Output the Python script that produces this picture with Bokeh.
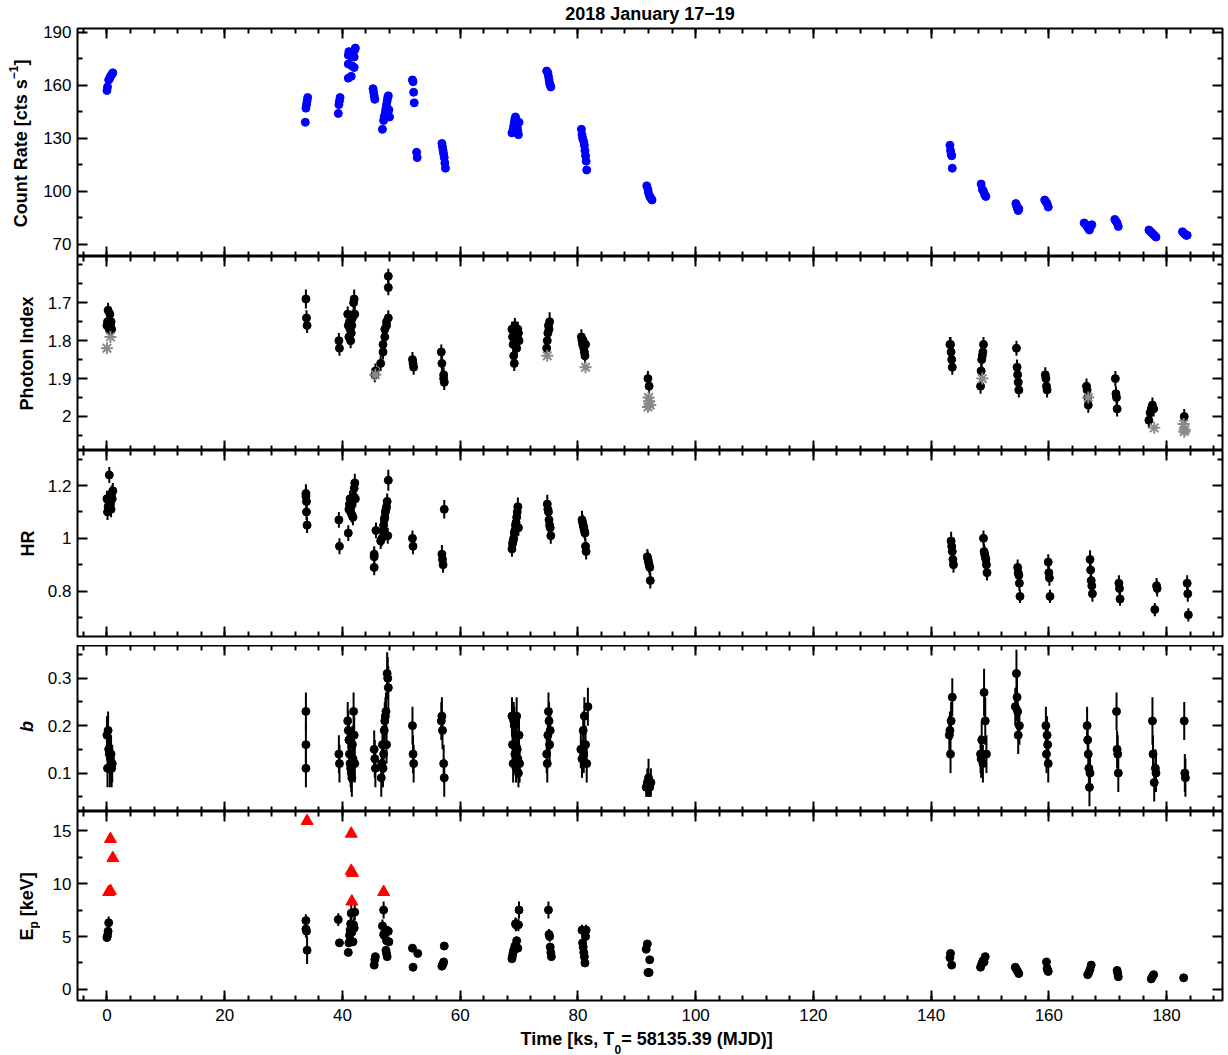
import math
from bokeh.plotting import figure
from bokeh.layouts import column, row
from bokeh.models import (Range1d, FixedTicker, SingleIntervalTicker, LinearAxis,
                          ColumnDataSource)
from bokeh.core.properties import value
from bokeh.embed import file_html
from bokeh.resources import INLINE

# ---------------------------------------------------------------- data
# count rate (cts/s)
rate_t = [
    0.0, 0.1, 0.3, 0.5, 0.6, 0.8, 1.0,
    33.7, 33.8, 33.9, 34.0, 34.1,
    39.3, 39.4, 39.5, 39.6,
    41.0, 41.0, 41.0, 41.1, 41.5, 41.6, 41.6, 41.7, 42.0, 42.0, 42.1, 42.2,
    45.2, 45.3, 45.4, 45.5,
    46.8, 47.0, 47.1, 47.2, 47.3, 47.4, 47.5, 47.6, 47.7, 47.8, 47.9, 48.0,
    51.9, 52.0, 52.1, 52.2,
    52.6, 52.7,
    56.9, 57.0, 57.1, 57.2, 57.3, 57.4, 57.5,
    68.8, 69.0, 69.1, 69.2, 69.3, 69.4, 69.5, 69.6, 69.7, 69.8, 69.9, 70.0,
    74.7, 74.9, 75.0, 75.1, 75.2, 75.3, 75.4,
    80.6, 80.7, 80.8, 81.0, 81.1, 81.2, 81.3, 81.4, 81.5,
    91.7, 91.9, 92.0, 92.2, 92.4, 92.6,
    143.2, 143.3, 143.4, 143.5, 143.6,
    148.5, 148.7, 148.9, 149.1, 149.3,
    154.4, 154.5, 154.6, 154.7, 154.8, 154.9,
    159.3, 159.5, 159.7, 159.9,
    166.0, 166.3, 166.5, 166.7, 166.9, 167.1, 167.3,
    171.2, 171.4, 171.6, 171.8,
    177.0, 177.3, 177.6, 177.9, 178.2,
    182.7, 183.0, 183.3, 183.5,
]
rate_val = [
    157, 159, 163, 164, 165, 166, 167,
    139, 147, 149, 151, 153,
    144, 149, 151, 153,
    164, 172, 177, 179, 165, 171, 176, 178, 170, 176, 180, 181,
    158, 156, 154, 152,
    135, 140, 142, 143, 145, 147, 149, 151, 153, 154, 146, 142,
    163, 162, 156, 150,
    122, 119,
    127, 125, 123, 121, 119, 116, 113,
    133, 135, 137, 139, 141, 142, 140, 138, 136, 134, 132, 139,
    168, 167, 165, 163, 161, 160, 159,
    135, 132, 130, 128, 126, 123, 120, 117, 112,
    103, 101, 99, 97, 96, 95,
    126, 123, 121, 120, 113,
    104, 101, 100, 98, 97,
    93, 92, 91, 90, 89, 90,
    95, 94, 93, 91,
    82, 81, 80, 79, 78, 80, 81,
    84, 83, 82, 80,
    78, 77, 76, 75, 74,
    77, 76, 75, 75,
]
rate_err = [
    2.0, 2.0, 2.0, 2.0, 2.0, 2.0, 2.0,
    1.5, 2.0, 2.0, 2.0, 2.0,
    2.0, 2.0, 2.0, 2.0,
    2.0, 2.0, 2.0, 2.0, 2.0, 2.0, 2.0, 2.0, 2.0, 2.0, 2.0, 2.0,
    2.0, 2.0, 2.0, 2.0,
    1.5, 2.0, 2.0, 2.0, 2.0, 2.0, 2.0, 2.0, 2.0, 2.0, 2.0, 2.0,
    2.0, 2.0, 2.0, 2.0,
    2.0, 2.0,
    2.0, 2.0, 2.0, 2.0, 2.0, 2.0, 2.0,
    2.0, 2.0, 2.0, 2.0, 2.0, 2.0, 2.0, 2.0, 2.0, 2.0, 2.0, 2.0,
    2.0, 2.0, 2.0, 2.0, 2.0, 2.0, 2.0,
    2.0, 2.0, 2.0, 2.0, 2.0, 2.0, 2.0, 2.0, 2.0,
    1.5, 1.5, 1.5, 1.5, 1.5, 1.5,
    1.5, 1.5, 1.5, 1.5, 1.5,
    1.5, 1.5, 1.5, 1.5, 1.5,
    1.5, 1.5, 1.5, 1.5, 1.5, 1.5,
    1.5, 1.5, 1.5, 1.5,
    1.5, 1.5, 1.5, 1.5, 1.5, 1.5, 1.5,
    1.5, 1.5, 1.5, 1.5,
    1.5, 1.5, 1.5, 1.5, 1.5,
    1.5, 1.5, 1.5, 1.5,
]

# photon index
pi_t = [
    0.0, 0.1, 0.2, 0.3, 0.4, 0.5, 0.6, 0.7, 0.8,
    33.8, 33.9, 34.0,
    39.4, 39.5,
    40.9, 41.0, 41.1, 41.2, 41.3, 41.4, 41.5, 41.6, 41.7, 41.9, 42.0, 42.1,
    45.5, 45.6,
    46.5, 46.9, 46.9, 47.2, 47.2, 47.5, 47.5, 47.8, 47.8, 47.8,
    51.9, 52.0, 52.1,
    56.8, 56.9, 57.2, 57.2, 57.3,
    68.8, 68.9, 69.0, 69.1, 69.2, 69.3, 69.4, 69.5, 69.6, 69.7, 69.8, 69.9, 70.0,
    74.7, 74.8, 74.9, 75.0, 75.1, 75.2,
    80.6, 80.7, 80.8, 80.9, 81.0, 81.1, 81.2, 81.3,
    91.9, 92.1,
    143.2, 143.3, 143.4, 143.5, 143.6,
    148.4, 148.5, 148.6, 148.7, 148.8, 148.9,
    154.5, 154.6, 154.7, 154.8, 154.9,
    159.4, 159.5, 159.6, 159.7,
    166.4, 166.5, 166.6, 166.7,
    171.3, 171.4, 171.5, 171.6,
    177.0, 177.2, 177.4, 177.6, 177.8,
    183.0,
]
pi_val = [
    1.76, 1.75, 1.72, 1.75, 1.77, 1.73, 1.76, 1.75, 1.77,
    1.69, 1.74, 1.76,
    1.80, 1.82,
    1.73, 1.76, 1.79, 1.75, 1.77, 1.80, 1.78, 1.76, 1.74, 1.70, 1.69, 1.73,
    1.89, 1.88,
    1.86, 1.83, 1.81, 1.79, 1.77, 1.76, 1.75, 1.74, 1.66, 1.63,
    1.85, 1.86, 1.87,
    1.83, 1.86, 1.89, 1.90, 1.91,
    1.77, 1.79, 1.81, 1.84, 1.86, 1.76, 1.78, 1.80, 1.82, 1.79, 1.77, 1.78, 1.80,
    1.82, 1.80, 1.78, 1.76, 1.77, 1.75,
    1.79, 1.80, 1.81, 1.80, 1.82, 1.83, 1.84, 1.81,
    1.90, 1.92,
    1.81, 1.81, 1.83, 1.85, 1.87,
    1.92, 1.88, 1.85, 1.84, 1.83, 1.81,
    1.82, 1.87, 1.89, 1.91, 1.93,
    1.89, 1.90, 1.92, 1.93,
    1.92, 1.93, 1.95, 1.97,
    1.90, 1.94, 1.95, 1.98,
    2.01, 1.99, 1.98, 1.97, 1.98,
    2.00,
]
pi_err = [
    0.02, 0.02, 0.02, 0.02, 0.02, 0.02, 0.02, 0.02, 0.02,
    0.025, 0.02, 0.02,
    0.02, 0.02,
    0.02, 0.02, 0.02, 0.02, 0.02, 0.02, 0.02, 0.02, 0.02, 0.02, 0.025, 0.02,
    0.02, 0.02,
    0.02, 0.02, 0.02, 0.02, 0.02, 0.02, 0.02, 0.02, 0.02, 0.02,
    0.02, 0.02, 0.02,
    0.02, 0.02, 0.02, 0.02, 0.02,
    0.02, 0.02, 0.02, 0.02, 0.02, 0.02, 0.02, 0.02, 0.02, 0.02, 0.02, 0.02, 0.02,
    0.025, 0.02, 0.02, 0.02, 0.02, 0.025,
    0.02, 0.02, 0.02, 0.02, 0.02, 0.02, 0.02, 0.02,
    0.02, 0.02,
    0.02, 0.02, 0.02, 0.02, 0.02,
    0.02, 0.02, 0.02, 0.02, 0.02, 0.02,
    0.02, 0.02, 0.02, 0.02, 0.02,
    0.02, 0.02, 0.02, 0.02,
    0.02, 0.02, 0.02, 0.02,
    0.02, 0.02, 0.02, 0.02,
    0.02, 0.02, 0.02, 0.02, 0.02,
    0.02,
]
# photon index from the alternative fit (grey asterisks)
pi_alt_t = [0.0, 0.6, 45.6, 74.8, 81.3, 91.9, 92.0, 92.1, 92.3,
            148.7, 166.7, 177.9, 182.9, 183.0, 183.1]
pi_alt_val = [1.82, 1.79, 1.89, 1.84, 1.87, 1.975, 1.95, 1.96, 1.97,
              1.90, 1.95, 2.03, 2.02, 2.04, 2.035]

# hardness ratio
hr_t = [
    0.0, 0.1, 0.2, 0.3, 0.4, 0.5, 0.6, 0.7, 0.8, 0.9, 1.0,
    33.8, 33.8, 33.9, 33.9, 34.0,
    39.4, 39.5,
    41.0, 41.1, 41.2, 41.3, 41.4, 41.5, 41.6, 41.7, 41.8, 41.9, 42.0, 42.1, 42.2,
    45.4, 45.4, 45.4, 45.7,
    46.5, 46.7, 46.9, 47.0, 47.1, 47.2, 47.3, 47.4, 47.5, 47.6, 47.7, 47.8,
    51.9, 52.0,
    56.9, 57.0, 57.1, 57.3,
    68.8, 68.9, 69.0, 69.1, 69.2, 69.3, 69.4, 69.5, 69.6, 69.7, 69.8, 69.9,
    74.8, 74.9, 75.0, 75.1, 75.2, 75.3, 75.4,
    80.7, 80.8, 80.9, 81.0, 81.1, 81.2, 81.3, 81.4,
    91.8, 91.9, 92.0, 92.1, 92.2, 92.3,
    143.4, 143.5, 143.6, 143.7, 143.8,
    148.9, 149.0, 149.1, 149.2, 149.3, 149.4, 149.5,
    154.7, 154.8, 154.9, 155.0, 155.1,
    159.9, 160.0, 160.1, 160.2,
    167.0, 167.1, 167.2, 167.3, 167.4,
    171.9, 172.0, 172.1,
    178.0, 178.3, 178.4,
    183.5, 183.6, 183.7,
]
hr_val = [
    1.15, 1.10, 1.12, 1.14, 1.24, 1.16, 1.13, 1.11, 1.17, 1.15, 1.18,
    1.17, 1.16, 1.14, 1.10, 1.05,
    1.07, 0.97,
    1.02, 1.11, 1.13, 1.15, 1.10, 1.12, 1.09, 1.14, 1.08, 1.16, 1.19, 1.21, 1.15,
    0.89, 0.93, 0.94, 1.03,
    0.99, 1.00, 1.03, 1.05, 1.07, 1.08, 1.10, 1.11, 1.12, 1.14, 1.01, 1.22,
    1.00, 0.97,
    0.94, 0.92, 0.90, 1.11,
    0.96, 0.98, 0.99, 1.00, 1.02, 1.03, 1.05, 1.06, 1.08, 1.10, 1.12, 1.04,
    1.13, 1.11, 1.10, 1.07, 1.05, 1.04, 1.01,
    1.07, 1.06, 1.05, 1.04, 1.03, 1.02, 0.97, 0.95,
    0.93, 0.92, 0.91, 0.90, 0.89, 0.84,
    0.99, 0.97, 0.95, 0.92, 0.90,
    1.00, 0.95, 0.94, 0.93, 0.92, 0.90, 0.87,
    0.89, 0.87, 0.86, 0.83, 0.78,
    0.91, 0.87, 0.85, 0.78,
    0.92, 0.88, 0.84, 0.82, 0.79,
    0.83, 0.81, 0.77,
    0.73, 0.82, 0.81,
    0.83, 0.79, 0.71,
]
hr_err = [
    0.03, 0.03, 0.03, 0.03, 0.03, 0.03, 0.03, 0.03, 0.03, 0.03, 0.03,
    0.035, 0.03, 0.03, 0.03, 0.03,
    0.03, 0.03,
    0.03, 0.03, 0.03, 0.03, 0.03, 0.03, 0.03, 0.03, 0.03, 0.03, 0.03, 0.035, 0.03,
    0.03, 0.03, 0.03, 0.03,
    0.03, 0.03, 0.03, 0.03, 0.03, 0.03, 0.03, 0.03, 0.03, 0.03, 0.03, 0.04,
    0.03, 0.03,
    0.035, 0.03, 0.03, 0.035,
    0.03, 0.03, 0.03, 0.03, 0.03, 0.03, 0.03, 0.03, 0.03, 0.03, 0.035, 0.03,
    0.035, 0.03, 0.03, 0.03, 0.03, 0.03, 0.03,
    0.035, 0.03, 0.03, 0.03, 0.03, 0.03, 0.03, 0.03,
    0.03, 0.03, 0.03, 0.03, 0.03, 0.03,
    0.035, 0.03, 0.03, 0.03, 0.03,
    0.03, 0.03, 0.03, 0.03, 0.03, 0.03, 0.03,
    0.03, 0.03, 0.03, 0.03, 0.025,
    0.03, 0.03, 0.03, 0.025,
    0.035, 0.03, 0.03, 0.03, 0.03,
    0.03, 0.03, 0.025,
    0.025, 0.03, 0.03,
    0.03, 0.03, 0.025,
]

# curvature parameter b
b_t = [
    0.0, 0.1, 0.2, 0.3, 0.4, 0.5, 0.6, 0.7, 0.8, 0.9,
    33.8, 33.8, 33.8,
    39.4, 39.5,
    40.9, 41.0, 41.1, 41.2, 41.3, 41.4, 41.5, 41.6, 41.7, 41.8, 41.9, 42.0, 42.1,
    45.4, 45.5, 45.6,
    46.6, 46.7, 46.8, 46.9, 47.0, 47.1, 47.2, 47.3, 47.4, 47.5, 47.6, 47.7, 47.8,
    51.9, 52.0, 52.1,
    56.8, 56.9, 57.0, 57.2, 57.3,
    68.8, 68.9, 69.0, 69.1, 69.2, 69.3, 69.4, 69.5, 69.6, 69.7, 69.8, 69.9, 70.0, 70.1,
    74.7, 74.8, 74.9, 75.0, 75.1, 75.2, 75.3,
    80.5, 80.7, 80.9, 81.0, 81.1, 81.3, 81.5, 81.7,
    91.6, 91.8, 92.0, 92.2, 92.4,
    143.1, 143.2, 143.3, 143.4, 143.6,
    148.4, 148.5, 148.6, 148.8, 149.0, 149.2, 149.4,
    154.3, 154.5, 154.6, 154.7, 154.8, 155.0,
    159.5, 159.6, 159.7, 159.8, 159.9,
    166.5, 166.6, 166.7, 166.8, 166.9, 167.0,
    171.5, 171.6, 171.7, 171.8,
    177.6, 177.7, 177.9, 178.1, 178.2,
    183.0, 183.1, 183.2,
]
b_val = [
    0.18, 0.11, 0.19, 0.15, 0.14, 0.11, 0.13, 0.14, 0.11, 0.12,
    0.23, 0.16, 0.11,
    0.14, 0.12,
    0.21, 0.19, 0.17, 0.14, 0.12, 0.11, 0.10, 0.09, 0.16, 0.13, 0.23, 0.18, 0.12,
    0.15, 0.13, 0.11,
    0.09, 0.12, 0.16, 0.11, 0.14, 0.19, 0.21, 0.22, 0.23, 0.16, 0.31, 0.30, 0.28,
    0.20, 0.14, 0.12,
    0.21, 0.22, 0.19, 0.12, 0.09,
    0.22, 0.16, 0.12, 0.21, 0.20, 0.14, 0.18, 0.11, 0.22, 0.15, 0.13, 0.10, 0.18, 0.12,
    0.14, 0.12, 0.18, 0.23, 0.21, 0.16, 0.19,
    0.15, 0.13, 0.19, 0.14, 0.22, 0.16, 0.12, 0.24,
    0.07, 0.08, 0.09, 0.07, 0.08,
    0.18, 0.19, 0.14, 0.21, 0.26,
    0.14, 0.13, 0.17, 0.12, 0.27, 0.21, 0.14,
    0.24, 0.31, 0.26, 0.23, 0.18, 0.20,
    0.20, 0.14, 0.18, 0.16, 0.12,
    0.20, 0.17, 0.14, 0.11, 0.07, 0.10,
    0.23, 0.15, 0.14, 0.10,
    0.21, 0.14, 0.08, 0.11, 0.10,
    0.21, 0.10, 0.09,
]
b_err = [
    0.04, 0.04, 0.04, 0.04, 0.04, 0.04, 0.04, 0.04, 0.04, 0.04,
    0.04, 0.045, 0.04,
    0.04, 0.04,
    0.04, 0.04, 0.04, 0.04, 0.04, 0.04, 0.04, 0.04, 0.04, 0.04, 0.04, 0.04, 0.04,
    0.04, 0.04, 0.04,
    0.04, 0.04, 0.04, 0.04, 0.04, 0.04, 0.04, 0.04, 0.04, 0.04, 0.045, 0.045, 0.045,
    0.04, 0.04, 0.04,
    0.04, 0.04, 0.04, 0.04, 0.04,
    0.04, 0.04, 0.04, 0.04, 0.04, 0.04, 0.04, 0.03, 0.04, 0.04, 0.04, 0.03, 0.04, 0.04,
    0.04, 0.04, 0.04, 0.04, 0.04, 0.04, 0.04,
    0.04, 0.04, 0.04, 0.04, 0.04, 0.04, 0.04, 0.04,
    0.02, 0.03, 0.04, 0.02, 0.03,
    0.04, 0.04, 0.04, 0.04, 0.04,
    0.04, 0.04, 0.04, 0.04, 0.05, 0.05, 0.04,
    0.04, 0.05, 0.05, 0.04, 0.04, 0.04,
    0.04, 0.04, 0.04, 0.04, 0.04,
    0.04, 0.04, 0.04, 0.04, 0.04, 0.04,
    0.04, 0.04, 0.04, 0.04,
    0.05, 0.04, 0.04, 0.04, 0.04,
    0.04, 0.04, 0.04,
]

# peak energy (keV)
ep_t = [
    0.0, 0.1, 0.2, 0.3,
    33.8, 33.8, 33.9, 34.0,
    39.3, 39.5,
    41.0, 41.1, 41.2, 41.3, 41.4, 41.5, 41.6, 41.8, 41.9, 42.0, 42.1,
    45.4, 45.5, 45.6,
    46.8, 47.0, 47.0, 47.1, 47.3, 47.4, 47.5, 47.5, 47.6, 47.8, 47.9,
    51.9, 52.0, 52.8,
    56.9, 57.0, 57.1, 57.2, 57.3,
    68.8, 68.9, 69.0, 69.1, 69.2, 69.3, 69.4, 69.5, 69.6, 69.8, 69.9, 70.0,
    75.0, 75.1, 75.2, 75.3, 75.4, 75.5,
    80.7, 80.8, 80.9, 81.0, 81.1, 81.2, 81.3, 81.4,
    91.6, 91.8, 91.9, 92.1, 92.2,
    143.2, 143.3, 143.5,
    148.4, 148.6, 148.8, 149.0, 149.2,
    154.3, 154.5, 154.7, 154.9,
    159.6, 159.7, 159.8, 159.9,
    166.6, 166.8, 167.0, 167.2,
    171.6, 171.7, 171.8,
    177.4, 177.6, 177.8,
    182.9,
]
ep_val = [
    4.9, 5.1, 5.5, 6.3,
    6.5, 5.7, 5.5, 3.7,
    6.6, 4.4,
    3.5, 4.4, 5.1, 5.6, 6.2, 7.2, 5.4, 4.5, 6.1, 5.8, 7.3,
    2.3, 2.8, 3.1,
    6.0, 7.5, 5.2, 5.1, 5.6, 3.7, 4.6, 3.4, 3.1, 5.5, 4.5,
    3.9, 2.1, 3.4,
    2.2, 2.3, 2.4, 2.6, 4.1,
    2.9, 3.2, 3.5, 3.7, 3.8, 4.1, 6.2, 6.1, 4.6, 3.9, 6.1, 7.5,
    7.5, 5.2, 5.0, 4.0, 3.5, 3.1,
    5.6, 4.4, 4.0, 3.5, 3.1, 2.5, 5.0, 5.6,
    3.8, 4.3, 1.6, 1.6, 2.8,
    3.0, 3.4, 2.3,
    2.1, 2.4, 2.7, 2.6, 3.1,
    2.1, 1.9, 1.7, 1.5,
    2.6, 2.0, 1.8, 1.7,
    1.4, 1.6, 1.9, 2.3,
    1.8, 1.5, 1.2,
    1.0, 1.2, 1.4,
    1.1,
]
ep_err = [
    0.3, 0.3, 0.4, 0.6,
    0.6, 0.8, 0.6, 1.3,
    0.6, 0.3,
    0.3, 0.4, 0.5, 0.6, 0.7, 0.8, 0.5, 0.4, 0.7, 0.6, 0.8,
    0.2, 0.3, 0.3,
    0.6, 0.8, 0.5, 0.5, 0.5, 0.4, 0.4, 0.3, 0.3, 0.5, 0.4,
    0.2, 0.2, 0.2,
    0.2, 0.2, 0.2, 0.2, 0.2,
    0.2, 0.2, 0.3, 0.3, 0.3, 0.3, 0.6, 0.6, 0.4, 0.3, 0.6, 0.8,
    0.8, 0.5, 0.5, 0.4, 0.3, 0.3,
    0.5, 0.4, 0.3, 0.3, 0.3, 0.2, 0.4, 0.5,
    0.3, 0.3, 0.1, 0.1, 0.2,
    0.3, 0.3, 0.2,
    0.2, 0.2, 0.2, 0.2, 0.3,
    0.2, 0.2, 0.2, 0.1,
    0.2, 0.2, 0.1, 0.1,
    0.1, 0.1, 0.2, 0.2,
    0.1, 0.1, 0.1,
    0.1, 0.1, 0.1,
    0.1,
]
# peak-energy limits (red triangles)
ep_lim_t = [0.3, 0.6, 0.6, 1.0, 34.0, 41.5, 41.5, 41.6, 41.7, 47.0]
ep_lim_val = [9.2, 9.3, 14.2, 12.4, 15.9, 14.7, 11.2, 8.3, 11.0, 9.2]

# axis ticks and labels
time_tick_step = 20
rate_ticks = [70, 100, 130, 160, 190]
rate_tick_labels = ["70", "100", "130", "160", "190"]
rate_minor = [85, 115, 145, 175]
pi_ticks = [1.7, 1.8, 1.9, 2.0]
pi_tick_labels = ["1.7", "1.8", "1.9", "2"]
pi_minor = [1.6, 1.65, 1.75, 1.85, 1.95, 2.05]
hr_ticks = [0.8, 1.0, 1.2]
hr_tick_labels = ["0.8", "1", "1.2"]
hr_minor = [0.7, 0.9, 1.1, 1.3]
b_ticks = [0.1, 0.2, 0.3]
b_tick_labels = ["0.1", "0.2", "0.3"]
b_minor = [0.05, 0.15, 0.25, 0.35]
ep_ticks = [0, 5, 10, 15]
ep_tick_labels = ["0", "5", "10", "15"]
ep_minor = [2.5, 7.5, 12.5]

# ---------------------------------------------------------------- layout
FONT = "Liberation Sans"
PAGE_W, PAGE_H = 1228, 1055
STRIP_W = 40                      # strip holding the vertical axis titles
PANEL_W = PAGE_W - STRIP_W
FRAME_L, FRAME_R = 36, 6
FRAME_W = PANEL_W - FRAME_L - FRAME_R
T_START, T_END = -5.0, 189.5
TITLE_H, XLAB_H = 24, 25
BLUE = "#0000ff"
BLACK = "#000000"
GREY = "#8a8a8a"
RED = "#ff0000"


def tick_style(ax):
    ax.axis_line_color = None
    ax.major_tick_in = 10
    ax.major_tick_out = 0
    ax.minor_tick_in = 5
    ax.minor_tick_out = 0
    ax.major_tick_line_width = 2
    ax.minor_tick_line_width = 2
    ax.major_tick_line_color = BLACK
    ax.minor_tick_line_color = BLACK
    ax.major_label_text_font = FONT
    ax.major_label_text_font_size = "17px"
    ax.major_label_text_color = BLACK


def panel(height, y_start, y_end, ticks, tick_labels, minor,
          top=0, bottom=0, time_labels=False):
    p = figure(width=PANEL_W, height=height,
               x_range=Range1d(T_START, T_END), y_range=Range1d(y_start, y_end),
               x_axis_location=None, y_axis_location=None,
               output_backend="svg", toolbar_location=None,
               min_border_left=FRAME_L, min_border_right=FRAME_R,
               min_border_top=top, min_border_bottom=bottom,
               background_fill_color="white", border_fill_color="white",
               outline_line_color=BLACK, outline_line_width=2)
    for g in p.grid:
        g.visible = False

    yticker = FixedTicker(ticks=ticks, minor_ticks=minor)
    left = LinearAxis(ticker=yticker,
                      major_label_overrides=dict(zip(ticks, tick_labels)),
                      major_label_standoff=6)
    tick_style(left)
    p.add_layout(left, "left")

    right = LinearAxis(ticker=yticker, fixed_location=T_END,
                       major_label_overrides={t: "" for t in ticks})
    tick_style(right)
    p.add_layout(right, "right")

    xticker = SingleIntervalTicker(interval=time_tick_step, num_minor_ticks=5)
    xt = list(range(0, 181, time_tick_step))
    top_ax = LinearAxis(ticker=xticker, fixed_location=y_end,
                        major_label_overrides={t: "" for t in xt})
    tick_style(top_ax)
    p.add_layout(top_ax, "above")

    if time_labels:
        bot = LinearAxis(ticker=xticker, major_label_standoff=8)
    else:
        bot = LinearAxis(ticker=xticker, fixed_location=y_start,
                         major_label_overrides={t: "" for t in xt})
    tick_style(bot)
    p.add_layout(bot, "below")
    return p


def error_points(p, t, v, e, color, size=8):
    src = ColumnDataSource(dict(t=t, v=v,
                                lo=[a - b for a, b in zip(v, e)],
                                hi=[a + b for a, b in zip(v, e)]))
    p.segment(x0="t", y0="lo", x1="t", y1="hi", source=src,
              line_color=color, line_width=2)
    p.scatter(x="t", y="v", source=src, marker="circle", size=size,
              fill_color=color, line_color=color)


def text_strip(width, height, span):
    """Blank figure for titles; one data unit is one pixel of its frame."""
    f = figure(width=width, height=height,
               x_range=Range1d(0, span), y_range=Range1d(0, height),
               x_axis_location=None, y_axis_location=None,
               output_backend="svg", toolbar_location=None,
               min_border=0, outline_line_color=None,
               background_fill_color="white", border_fill_color="white")
    for g in f.grid:
        g.visible = False
    f._h = height
    return f


def put(f, x, y_from_top, s, size="18px", style="bold", angle=0.0,
        align="left"):
    # the anchor sits on the middle of the capitals
    f.text(x=[x], y=[f._h - y_from_top], text=[s], angle=angle,
           text_align=align, text_baseline="alphabetic",
           text_font=value(FONT), text_font_size=value(size),
           text_font_style=value(style), text_color=BLACK)


UP = math.pi / 2

# count rate (a few pixels of border above leave room for the top tick label)
p1 = panel(232, 63.0, 192.1, rate_ticks, rate_tick_labels, rate_minor, top=4)
error_points(p1, rate_t, rate_val, rate_err, BLUE)

# photon index (inverted axis)
p2 = panel(194, 2.0897, 1.578, pi_ticks, pi_tick_labels, pi_minor)
error_points(p2, pi_t, pi_val, pi_err, BLACK)
p2.scatter(x=pi_alt_t, y=pi_alt_val, marker="asterisk", size=12,
           line_color=GREY, line_width=2)

# hardness ratio
p3 = panel(195, 0.628, 1.333, hr_ticks, hr_tick_labels, hr_minor, bottom=9)
error_points(p3, hr_t, hr_val, hr_err, BLACK)

# curvature b
p4 = panel(166, 0.019, 0.369, b_ticks, b_tick_labels, b_minor)
error_points(p4, b_t, b_val, b_err, BLACK)

# peak energy
p5 = panel(219, -1.04, 16.8, ep_ticks, ep_tick_labels, ep_minor,
           bottom=30, time_labels=True)
error_points(p5, ep_t, ep_val, ep_err, BLACK)
p5.scatter(x=ep_lim_t, y=ep_lim_val, marker="triangle", size=12,
           fill_color=RED, line_color=RED)

# title (its frame lines up with the panel frames)
title = text_strip(PANEL_W, TITLE_H, FRAME_W)
put(title, FRAME_W / 2, 13.8, "2018 January 17\u221219", align="center")

# time axis title
xlab = text_strip(PANEL_W, XLAB_H, FRAME_W)
put(xlab, 443.5, 8.5, "Time [ks, T")
put(xlab, 537.5, 18.5, "0", size="12px")
put(xlab, 544.2, 8.5, "= 58135.39 (MJD)]")

# vertical axis titles (page coordinates)
ylab = text_strip(STRIP_W, PAGE_H, STRIP_W)
put(ylab, 20, 226.7, "Count Rate [cts s", angle=UP)
put(ylab, 12.5, 78.7, "\u22121", size="12px", angle=UP)
put(ylab, 20, 65.0, "]", angle=UP)
put(ylab, 26, 353, "Photon Index", angle=UP, align="center")
put(ylab, 27.5, 543, "HR", angle=UP, align="center")
put(ylab, 26, 726, "b", style="bold italic", angle=UP, align="center")
put(ylab, 26, 940, "E", angle=UP)
put(ylab, 33, 928, "p", size="12px", angle=UP)
put(ylab, 26, 915.7, "[keV]", angle=UP)

layout = row(ylab, column(title, p1, p2, p3, p4, p5, xlab, spacing=0), spacing=0)

with open("out.html", "w") as f:
    f.write(file_html(layout, INLINE))
